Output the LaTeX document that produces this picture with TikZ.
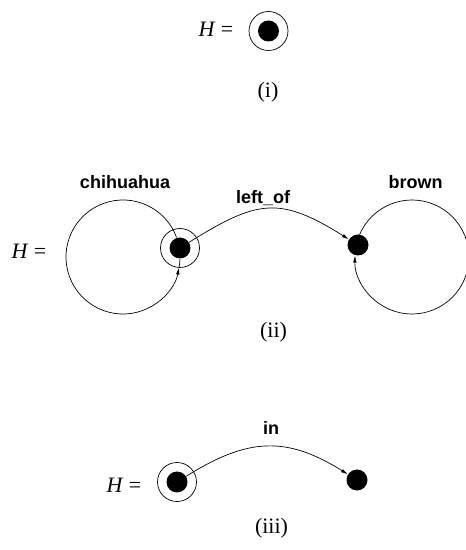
\documentclass[tikz,border=0pt]{standalone}
\usepackage{fontspec}
\setmainfont{Liberation Serif}
\setsansfont{Liberation Sans}
\usetikzlibrary{arrows.meta}
\begin{document}
\begin{tikzpicture}[x=1pt,y=1pt,
  dotnode/.style={circle,fill=black,inner sep=0pt,minimum size=21pt},
  ringnode/.style={circle,draw,line width=0.7pt,inner sep=0pt,minimum size=39pt},
  thinline/.style={line width=0.7pt},
  conn/.style={thinline,-{Latex[length=7pt,width=3.6pt]}},
  lbl/.style={font=\sffamily\bfseries\fontsize{18}{20}\selectfont},
  eqn/.style={font=\fontsize{22}{24}\selectfont}]
\useasboundingbox (0,0) rectangle (466,550);
% (i)
\node[eqn] (h1) at (216,521) {\textit{H} =};
\node[ringnode] (r1) at (268.5,519) {};
\node[dotnode] (d1) at (268.5,519) {};
\node[eqn] (l1) at (268,457.5) {(i)};
% (ii)
\node[eqn] (h2) at (29,299) {\textit{H} =};
\node[ringnode] (r2) at (180,302) {};
\node[dotnode] (c2) at (180,302) {};
\node[dotnode] (b2) at (358,305) {};
\coordinate (lc) at (123,293);
\coordinate (lb) at (412,293);
\draw[conn] ([shift={(20:57)}]lc) arc[start angle=20,end angle=349.4,radius=57];
\draw[thinline] ([shift={(349.4:57)}]lc) arc[start angle=349.4,end angle=358,radius=57];
\draw[conn] ([shift={(157:57)}]lb) arc[start angle=157,end angle=-181.5,radius=57];
\draw[conn] (c2) to[out=32,in=148,looseness=1.3] (b2);
\node[lbl,anchor=base] (tlo) at (263,346.7) {left\_of};
\node[lbl,anchor=base] (tc) at (125,361.5) {chihuahua};
\node[lbl,anchor=base] (tb) at (415.5,361.5) {brown};
\node[eqn] (l2) at (273.5,217.5) {(ii)};
% (iii)
\node[eqn] (h3) at (124,65) {\textit{H} =};
\node[ringnode] (r3) at (177,68) {};
\node[dotnode] (a3) at (177,68) {};
\node[dotnode] (e3) at (357,70) {};
\draw[conn] (a3) to[out=32,in=148,looseness=1.15] (e3);
\node[lbl,anchor=base] (tin) at (271,115) {in};
\node[eqn] (l3) at (271.5,21.5) {(iii)};
\end{tikzpicture}
\end{document}
